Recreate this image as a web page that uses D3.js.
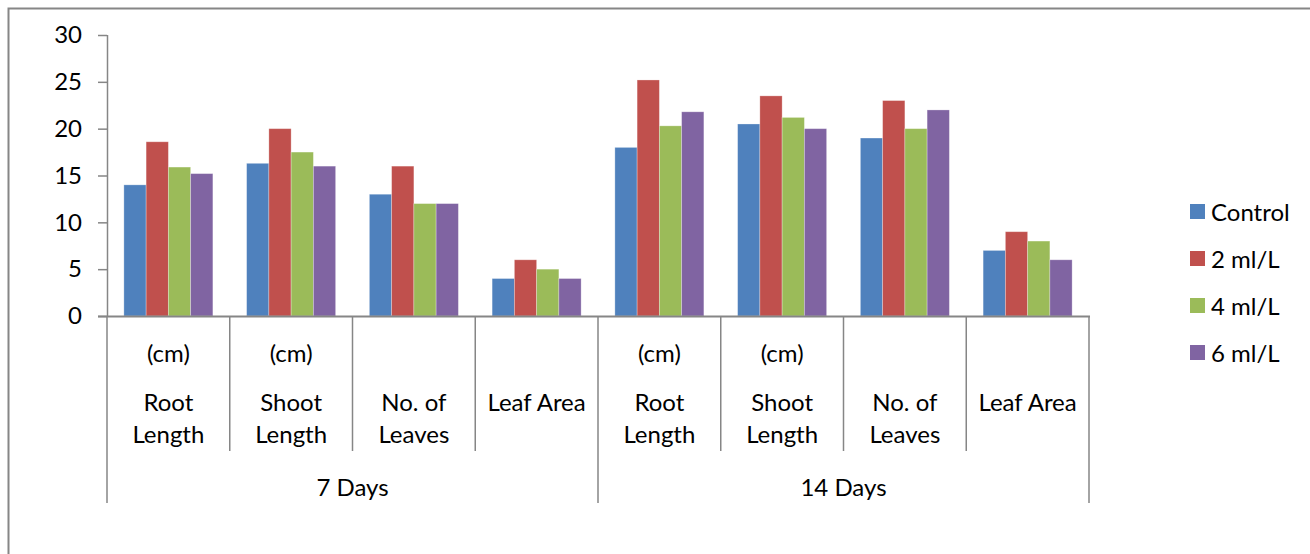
<!DOCTYPE html>
<html>
<head>
<meta charset="utf-8">
<script src="https://cdn.jsdelivr.net/npm/d3@7"></script>
<style>
  html, body { margin: 0; padding: 0; background: #fff; }
  svg { display: block; }
  text { font-family: Lato, "Open Sans", sans-serif; fill: #000; }
</style>
</head>
<body>
<svg id="chart" width="1310" height="554"></svg>
<script>
// ---- data ----
const groups = ["7 Days", "14 Days"];
const categories = ["Root Length", "Shoot Length", "No. of Leaves", "Leaf Area",
                    "Root Length", "Shoot Length", "No. of Leaves", "Leaf Area"];
const unitLines = ["(cm)", "(cm)", "", "", "(cm)", "(cm)", "", ""];
const nameLines = [["Root", "Length"], ["Shoot", "Length"], ["No. of", "Leaves"], ["Leaf Area"],
                   ["Root", "Length"], ["Shoot", "Length"], ["No. of", "Leaves"], ["Leaf Area"]];
const seriesNames = ["Control", "2 ml/L", "4 ml/L", "6 ml/L"];
const control = [14, 16.3, 13, 4, 18, 20.5, 19, 7];
const ml2 = [18.6, 20, 16, 6, 25.2, 23.5, 23, 9];
const ml4 = [15.9, 17.5, 12, 5, 20.3, 21.2, 20, 8];
const ml6 = [15.2, 16, 12, 4, 21.8, 20, 22, 6];
const yTicks = [0, 5, 10, 15, 20, 25, 30];
const colors = ["#4F81BD", "#C0504D", "#9BBB59", "#8064A2"];

const seriesValues = [control, ml2, ml4, ml6];

// ---- layout ----
const svg = d3.select("#chart");
const axisColor = "#868686";
const fontSize = 24;
const plotLeft = 107, plotRight = 1089, plotTop = 35, plotBottom = 316;

// chart border
svg.append("rect")
  .attr("x", 8.5).attr("y", 8.5).attr("width", 1400).attr("height", 700)
  .attr("fill", "none").attr("stroke", axisColor).attr("stroke-width", 2);

const x = d3.scaleBand().domain(d3.range(categories.length))
  .range([plotLeft, plotRight]).paddingInner(0.275).paddingOuter(0.1375);
const xs = d3.scaleBand().domain(d3.range(seriesNames.length)).range([0, x.bandwidth()]);
const y = d3.scaleLinear().domain([0, 30]).range([plotBottom, plotTop]);

// bars
seriesValues.forEach((vals, si) => {
  svg.append("g").selectAll("rect").data(vals).join("rect")
    .attr("x", (d, i) => x(i) + xs(si))
    .attr("y", d => y(d))
    .attr("width", xs.bandwidth())
    .attr("height", d => y(0) - y(d))
    .attr("fill", colors[si])
    .attr("stroke", "#fff").attr("stroke-opacity", 0.35).attr("stroke-width", 0.8);
});

// y axis
const yAxis = d3.axisLeft(y).tickValues(yTicks).tickSize(9).tickPadding(16);
const yg = svg.append("g").attr("transform", `translate(${plotLeft},0)`).call(yAxis);
yg.select(".domain").attr("stroke", axisColor).attr("stroke-width", 1.5)
  .attr("d", `M0.5,${plotTop}V${plotBottom}`);
yg.selectAll(".tick line").attr("stroke", axisColor).attr("stroke-width", 1.5);
yg.selectAll(".tick text").attr("font-size", fontSize).attr("font-family", "Lato").attr("fill", "#000");

// x axis baseline
svg.append("line").attr("x1", plotLeft - 9).attr("x2", plotRight + 1).attr("y1", plotBottom + 0.5).attr("y2", plotBottom + 0.5)
  .attr("stroke", axisColor).attr("stroke-width", 2);

// category separators
const step = x.step();
const nCat = categories.length;
for (let i = 0; i <= nCat; i++) {
  const bx = plotLeft + i * step;
  const outer = (i === 0 || i === nCat || i === nCat / 2);
  svg.append("line")
    .attr("x1", bx).attr("x2", bx)
    .attr("y1", plotBottom).attr("y2", outer ? 503 : 451)
    .attr("stroke", axisColor).attr("stroke-width", 1.5);
}

// category labels
categories.forEach((c, i) => {
  const cx = plotLeft + (i + 0.5) * step;
  if (unitLines[i]) {
    svg.append("text").attr("x", cx).attr("y", 352).attr("text-anchor", "middle")
      .attr("dominant-baseline", "central").attr("font-size", fontSize).text(unitLines[i]);
  }
  nameLines[i].forEach((ln, li) => {
    svg.append("text").attr("x", cx).attr("y", 401.5 + li * 31.5).attr("text-anchor", "middle")
      .attr("dominant-baseline", "central").attr("font-size", fontSize).text(ln);
  });
});

// group labels
groups.forEach((g, gi) => {
  const per = nCat / groups.length;
  const gx = plotLeft + (gi * per + per / 2) * step;
  svg.append("text").attr("x", gx).attr("y", 486.5).attr("text-anchor", "middle")
    .attr("dominant-baseline", "central").attr("font-size", fontSize).text(g);
});

// legend
const leg = svg.append("g");
seriesNames.forEach((n, i) => {
  const cy = 211.5 + i * 47;
  leg.append("rect").attr("x", 1190).attr("y", cy - 7.5).attr("width", 15).attr("height", 15).attr("fill", colors[i]);
  leg.append("text").attr("x", 1211).attr("y", cy).attr("dominant-baseline", "central")
    .attr("font-size", fontSize).text(n);
});
</script>
</body>
</html>
